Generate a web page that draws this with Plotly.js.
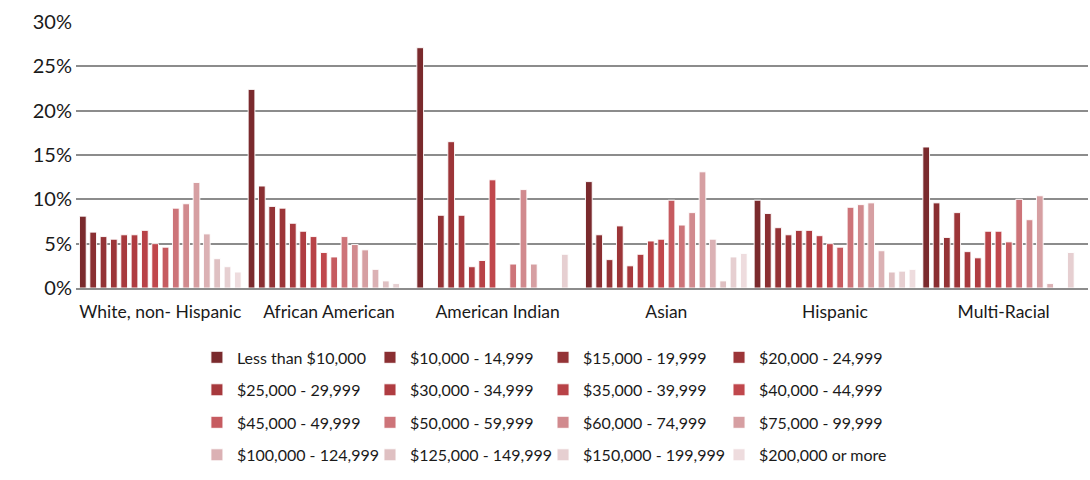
<!DOCTYPE html>
<html><head><meta charset="utf-8">
<script src="https://cdn.plot.ly/plotly-3.0.1.min.js"></script>
<style>html,body{margin:0;padding:0;background:#fff}#chart{width:1090px;height:480px}</style>
</head><body><div id="chart"></div>
<script>
const groups = ["White, non- Hispanic", "African American", "American Indian", "Asian", "Hispanic", "Multi-Racial"];
const incomeBrackets = ["Less than $10,000", "$10,000 - 14,999", "$15,000 - 19,999", "$20,000 - 24,999",
  "$25,000 - 29,999", "$30,000 - 34,999", "$35,000 - 39,999", "$40,000 - 44,999",
  "$45,000 - 49,999", "$50,000 - 59,999", "$60,000 - 74,999", "$75,000 - 99,999",
  "$100,000 - 124,999", "$125,000 - 149,999", "$150,000 - 199,999", "$200,000 or more"];
// percent of households in each income bracket, per group (in bracket order)
const whiteNonHispanic = [8.1, 6.3, 5.8, 5.5, 6.0, 6.0, 6.5, 5.0, 4.6, 9.0, 9.5, 11.9, 6.1, 3.3, 2.4, 1.8];
const africanAmerican  = [22.4, 11.5, 9.2, 9.0, 7.3, 6.4, 5.8, 4.0, 3.5, 5.8, 4.9, 4.3, 2.1, 0.8, 0.5, 0];
const americanIndian   = [27.1, 0, 8.2, 16.5, 8.2, 2.4, 3.1, 12.2, 0, 2.7, 11.1, 2.7, 0, 0, 3.8, 0];
const asian            = [12.0, 6.0, 3.2, 7.0, 2.5, 3.8, 5.3, 5.5, 9.9, 7.1, 8.5, 13.1, 5.5, 0.8, 3.5, 3.9];
const hispanic         = [9.9, 8.4, 6.8, 6.0, 6.5, 6.5, 5.9, 5.0, 4.6, 9.1, 9.4, 9.6, 4.2, 1.8, 1.9, 2.1];
const multiRacial      = [15.9, 9.6, 5.7, 8.5, 4.1, 3.4, 6.4, 6.4, 5.2, 10.0, 7.7, 10.4, 0.5, 0, 4.0, 0];
const colors = ["#7a2a2d", "#8a2f32", "#943336", "#9c3538", "#a7393d", "#af3c41", "#b84247", "#c0474c",
  "#c65b60", "#cd7479", "#d18a8e", "#d69fa2", "#dbb1b4", "#dfc0c2", "#e6cfd1", "#eedcde"];

const byGroup = [whiteNonHispanic, africanAmerican, americanIndian, asian, hispanic, multiRacial];
// legend laid out as 4 columns (one Plotly legend per column), filled row by row
const legendNames = ["legend", "legend2", "legend3", "legend4"];

const traces = incomeBrackets.map((name, i) => ({
  type: "bar",
  name: name,
  x: groups,
  y: byGroup.map(g => g[i]),
  marker: {color: colors[i], line: {color: "rgba(255,255,255,0.9)", width: 1}},
  legend: legendNames[i % 4],
  legendgroup: name,
  hovertemplate: "%{x}<br>" + name + ": %{y}%<extra></extra>"
}));

const legendFont = {family: "Lato, 'Open Sans', sans-serif", size: 16, color: "#1a1a1a"};
const colX = [0.1195, 0.2905, 0.4615, 0.6354];
function legendAt(x) {
  return {orientation: "v", x: x, xanchor: "left", y: -0.197, yanchor: "top",
    itemwidth: 30, font: legendFont, traceorder: "grouped", tracegroupgap: 8.7,
    bgcolor: "rgba(0,0,0,0)"};
}

const layout = {
  width: 1090, height: 480,
  margin: {l: 76, r: 2, t: 22, b: 192},
  paper_bgcolor: "#fff", plot_bgcolor: "#fff",
  barmode: "group", bargap: 0.02, bargroupgap: 0.35,
  showlegend: true,
  legend: legendAt(colX[0]),
  legend2: legendAt(colX[1]),
  legend3: legendAt(colX[2]),
  legend4: legendAt(colX[3]),
  xaxis: {
    type: "category",
    tickfont: {family: "Lato, 'Open Sans', sans-serif", size: 17.5, color: "#1a1a1a"},
    ticklabelstandoff: 7,
    showline: true, linecolor: "#8c8c8c", linewidth: 1.5,
    showgrid: false, ticks: ""
  },
  yaxis: {
    range: [0, 30], dtick: 5, ticksuffix: "%",
    tickfont: {family: "Lato, 'Open Sans', sans-serif", size: 20, color: "#1a1a1a"},
    ticklabelstandoff: 3,
    showgrid: true, gridcolor: "#8c8c8c", gridwidth: 1.5,
    zeroline: false, showline: false, ticks: ""
  }
};

Plotly.newPlot("chart", traces, layout, {displayModeBar: false, responsive: false});
</script>
</body></html>
